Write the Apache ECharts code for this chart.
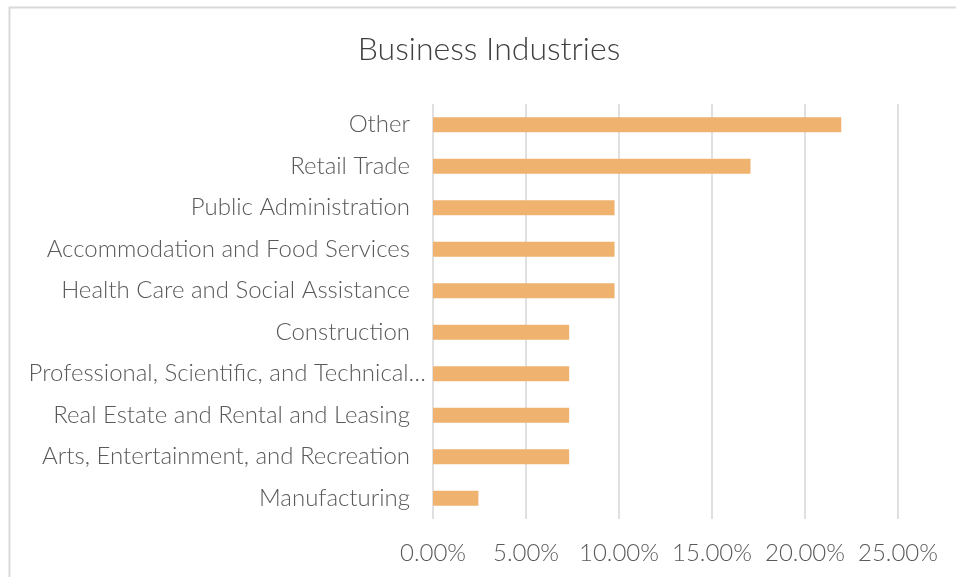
<!DOCTYPE html>
<html>
<head>
<meta charset="utf-8">
<script src="https://cdn.jsdelivr.net/npm/echarts@6/dist/echarts.min.js"></script>
<style>
  html, body { margin: 0; padding: 0; background: #fff; }
  #chart { width: 956px; height: 577px; }
</style>
</head>
<body>
<div id="chart"></div>
<script>
// Industries, top to bottom
const industries = [
  'Other',
  'Retail Trade',
  'Public Administration',
  'Accommodation and Food Services',
  'Health Care and Social Assistance',
  'Construction',
  'Professional, Scientific, and Technical…',
  'Real Estate and Rental and Leasing',
  'Arts, Entertainment, and Recreation',
  'Manufacturing'
];
// Share of businesses, in percent
const shares = [21.95, 17.07, 9.76, 9.76, 9.76, 7.32, 7.32, 7.32, 7.32, 2.44];
// Value axis ticks (percent)
const axisMin = 0, axisMax = 25, axisStep = 5;

const FONT = 'Lato, "Open Sans", sans-serif';
const chart = echarts.init(document.getElementById('chart'), null, { renderer: 'canvas' });
chart.setOption({
  backgroundColor: '#ffffff',
  animation: false,
  graphic: [{
    type: 'rect',
    left: 7, top: 5,
    shape: { width: 1000, height: 620 },
    style: { fill: 'none', stroke: '#d9d9d9', lineWidth: 2 },
    silent: true, z: -1
  }],
  title: {
    text: 'Business Industries',
    left: 484, top: 29,
    textAlign: 'center',
    textStyle: { fontFamily: FONT, fontWeight: 300, fontSize: 32, color: '#404040' }
  },
  grid: { left: 433, right: 58, top: 104, bottom: 58, containLabel: false },
  xAxis: {
    type: 'value',
    min: axisMin, max: axisMax, interval: axisStep,
    axisLine: { show: false },
    axisTick: { show: false },
    splitLine: { show: true, lineStyle: { color: '#e0e0e0', width: 2 } },
    axisLabel: {
      margin: 22,
      fontFamily: FONT, fontWeight: 300, fontSize: 24, color: '#595959',
      formatter: v => v.toFixed(2) + '%'
    }
  },
  yAxis: {
    type: 'category',
    data: industries,
    inverse: true,
    axisLine: { show: false },
    axisTick: { show: false },
    splitLine: { show: false },
    axisLabel: {
      margin: 23,
      fontFamily: FONT, fontWeight: 300, fontSize: 24, color: '#595959',
      // the shortened label runs a little past the others, up to the axis
      formatter: v => v.endsWith('…') ? '{cut|' + v + '}' : v,
      rich: {
        cut: { fontFamily: FONT, fontWeight: 300, fontSize: 24, color: '#595959', padding: [0, -16, 0, 0] }
      }
    }
  },
  series: [{
    type: 'bar',
    data: shares,
    barWidth: '36%',
    itemStyle: { color: '#EFB26F' },
    silent: true
  }]
});
</script>
</body>
</html>
